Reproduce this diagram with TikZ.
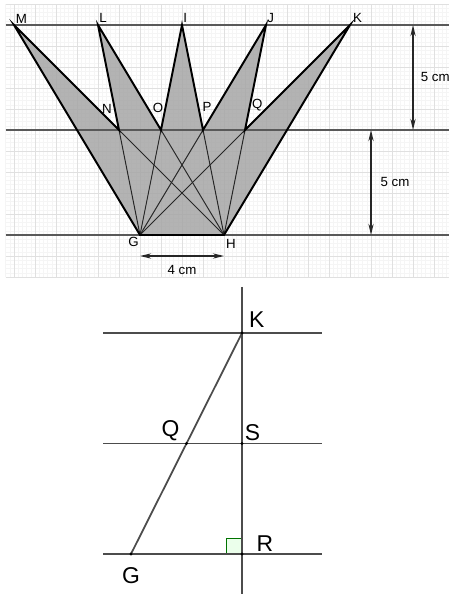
\documentclass[tikz,border=0pt]{standalone}
\usepackage{fontspec}
\setmainfont{Liberation Sans}
\usetikzlibrary{arrows.meta,positioning}

\begin{document}
\begin{tikzpicture}[
    ptlabel/.style={font=\fontsize{18}{20}\selectfont, inner sep=1pt},
    dimlabel/.style={font=\fontsize{18}{20}\selectfont, inner sep=1pt},
    biglabel/.style={font=\fontsize{31}{35}\selectfont, inner sep=1pt},
    level/.style={draw=black!65, line width=2.6pt},
    outline/.style={draw=black, line width=2.6pt, line join=miter},
    ray/.style={draw=black!85, line width=1.3pt},
    dim/.style={{Stealth[length=15pt,width=7pt]}-{Stealth[length=15pt,width=7pt]}, line width=2.2pt, draw=black!85},
    axis/.style={draw=black!70, line width=2.4pt}
]
  \useasboundingbox (-6.667,-17.095) rectangle (14.714,11.19);

  % Grid
  \draw[black!4, line width=0.6pt] (-6.4,-2) grid[step=0.2] (14.714,11);
  \draw[black!12, line width=1.2pt] (-6.4,-2) grid[step=1] (14.714,11);

  % Points
  \coordinate (G) at (0,0);
  \coordinate (H) at (4,0);
  \coordinate (M) at (-6,10);
  \coordinate (L) at (-2,10);
  \coordinate (I) at (2,10);
  \coordinate (J) at (6,10);
  \coordinate (K) at (10,10);
  \coordinate (N) at (-1,5);
  \coordinate (O) at (1,5);
  \coordinate (P) at (3,5);
  \coordinate (Q) at (5,5);

  % Shaded crown
  \fill[black!35, fill opacity=0.85] (G) -- (M) -- (N) -- (L) -- (O) -- (I) -- (P) -- (J) -- (Q) -- (K) -- (H) -- cycle;
  \foreach \t in {M,L,I,J,K} {
    \draw[ray] (\t) -- (G);
    \draw[ray] (\t) -- (H);
  }

  % Levels
  \coordinate (top-l) at (-6.4,10);
  \coordinate (top-r) at (14.714,10);
  \coordinate (mid-l) at (-6.4,5);
  \coordinate (mid-r) at (14.714,5);
  \coordinate (bot-l) at (-6.4,0);
  \coordinate (bot-r) at (14.714,0);
  \draw[level] (top-l) -- (top-r);
  \draw[level] (mid-l) -- (mid-r);
  \draw[level] (bot-l) -- (bot-r);

  \draw[outline] (G) -- (M) -- (N) -- (L) -- (O) -- (I) -- (P) -- (J) -- (Q) -- (K) -- (H) -- cycle;

  % Labels
  \node (lM) [ptlabel, above right=0.03cm and 0.05cm of M] {M};
  \node (lL) [ptlabel, above right=0.08cm and 0.02cm of L] {L};
  \node (lI) [ptlabel, above right=0.08cm and 0.02cm of I] {I};
  \node (lJ) [ptlabel, above right=0.08cm and 0.02cm of J] {J};
  \node (lK) [ptlabel, above right=0.08cm and 0.1cm of K] {K};
  \node (lN) [ptlabel, above left=0.75cm and 0.3cm of N] {N};
  \node (lO) [ptlabel, above=0.8cm of O, xshift=-0.14cm] {O};
  \node (lP) [ptlabel, above=0.85cm of P, xshift=0.19cm] {P};
  \node (lQ) [ptlabel, above right=0.85cm and 0.3cm of Q] {Q};
  \node (lG) [ptlabel, below left=0.08cm and 0.02cm of G] {G};
  \node (lH) [ptlabel, below right=0.18cm and 0.06cm of H] {H};

  % Dimensions
  \coordinate (d1a) at (13,10);
  \coordinate (d1b) at (13,5);
  \coordinate (d2a) at (11,5);
  \coordinate (d2b) at (11,0);
  \coordinate (d3a) at (0,-1);
  \coordinate (d3b) at (4,-1);
  \draw[dim] (d1a) -- node (t1) [dimlabel, right=0.3cm] {5 cm} (d1b);
  \draw[dim] (d2a) -- node (t2) [dimlabel, right=0.38cm] {5 cm} (d2b);
  \draw[dim] (d3a) -- node (t3) [dimlabel, below=0.35cm] {4 cm} (d3b);

  % Second figure
  \coordinate (Kb) at (4.857,-4.667);
  \coordinate (Sb) at (4.857,-9.93);
  \coordinate (Rb) at (4.857,-15.19);
  \coordinate (Gb) at (-0.43,-15.19);
  \coordinate (Qb) at (2.214,-9.93);
  \coordinate (v-top) at (4.857,-2.476);
  \coordinate (v-bot) at (4.857,-17.095);
  \coordinate (k-l) at (-1.762,-4.667);
  \coordinate (k-r) at (8.667,-4.667);
  \coordinate (s-l) at (-1.762,-9.93);
  \coordinate (s-r) at (8.667,-9.93);
  \coordinate (r-l) at (-1.762,-15.19);
  \coordinate (r-r) at (8.667,-15.19);

  \draw[draw=green!45!black, fill=green!8, line width=1.4pt] (Rb) rectangle ++(-0.76,0.76);
  \draw[axis] (k-l) -- (k-r);
  \draw[axis] (s-l) -- (s-r);
  \draw[axis] (r-l) -- (r-r);
  \draw[axis] (v-top) -- (v-bot);
  \draw[axis] (Gb) -- (Kb);
  \foreach \p in {Kb,Sb,Rb,Gb,Qb}
    \fill (\p) circle (2.2pt);

  \node (lKb) [biglabel, above right=0.2cm and 0.3cm of Kb] {K};
  \node (lSb) [biglabel, above right=0.1cm and 0.1cm of Sb] {S};
  \node (lQb) [biglabel, above left=0.1cm and 0.3cm of Qb] {Q};
  \node (lRb) [biglabel, above right=0.1cm and 0.65cm of Rb] {R};
  \node (lGb) [biglabel, below=0.6cm of Gb] {G};

\end{tikzpicture}
\end{document}
